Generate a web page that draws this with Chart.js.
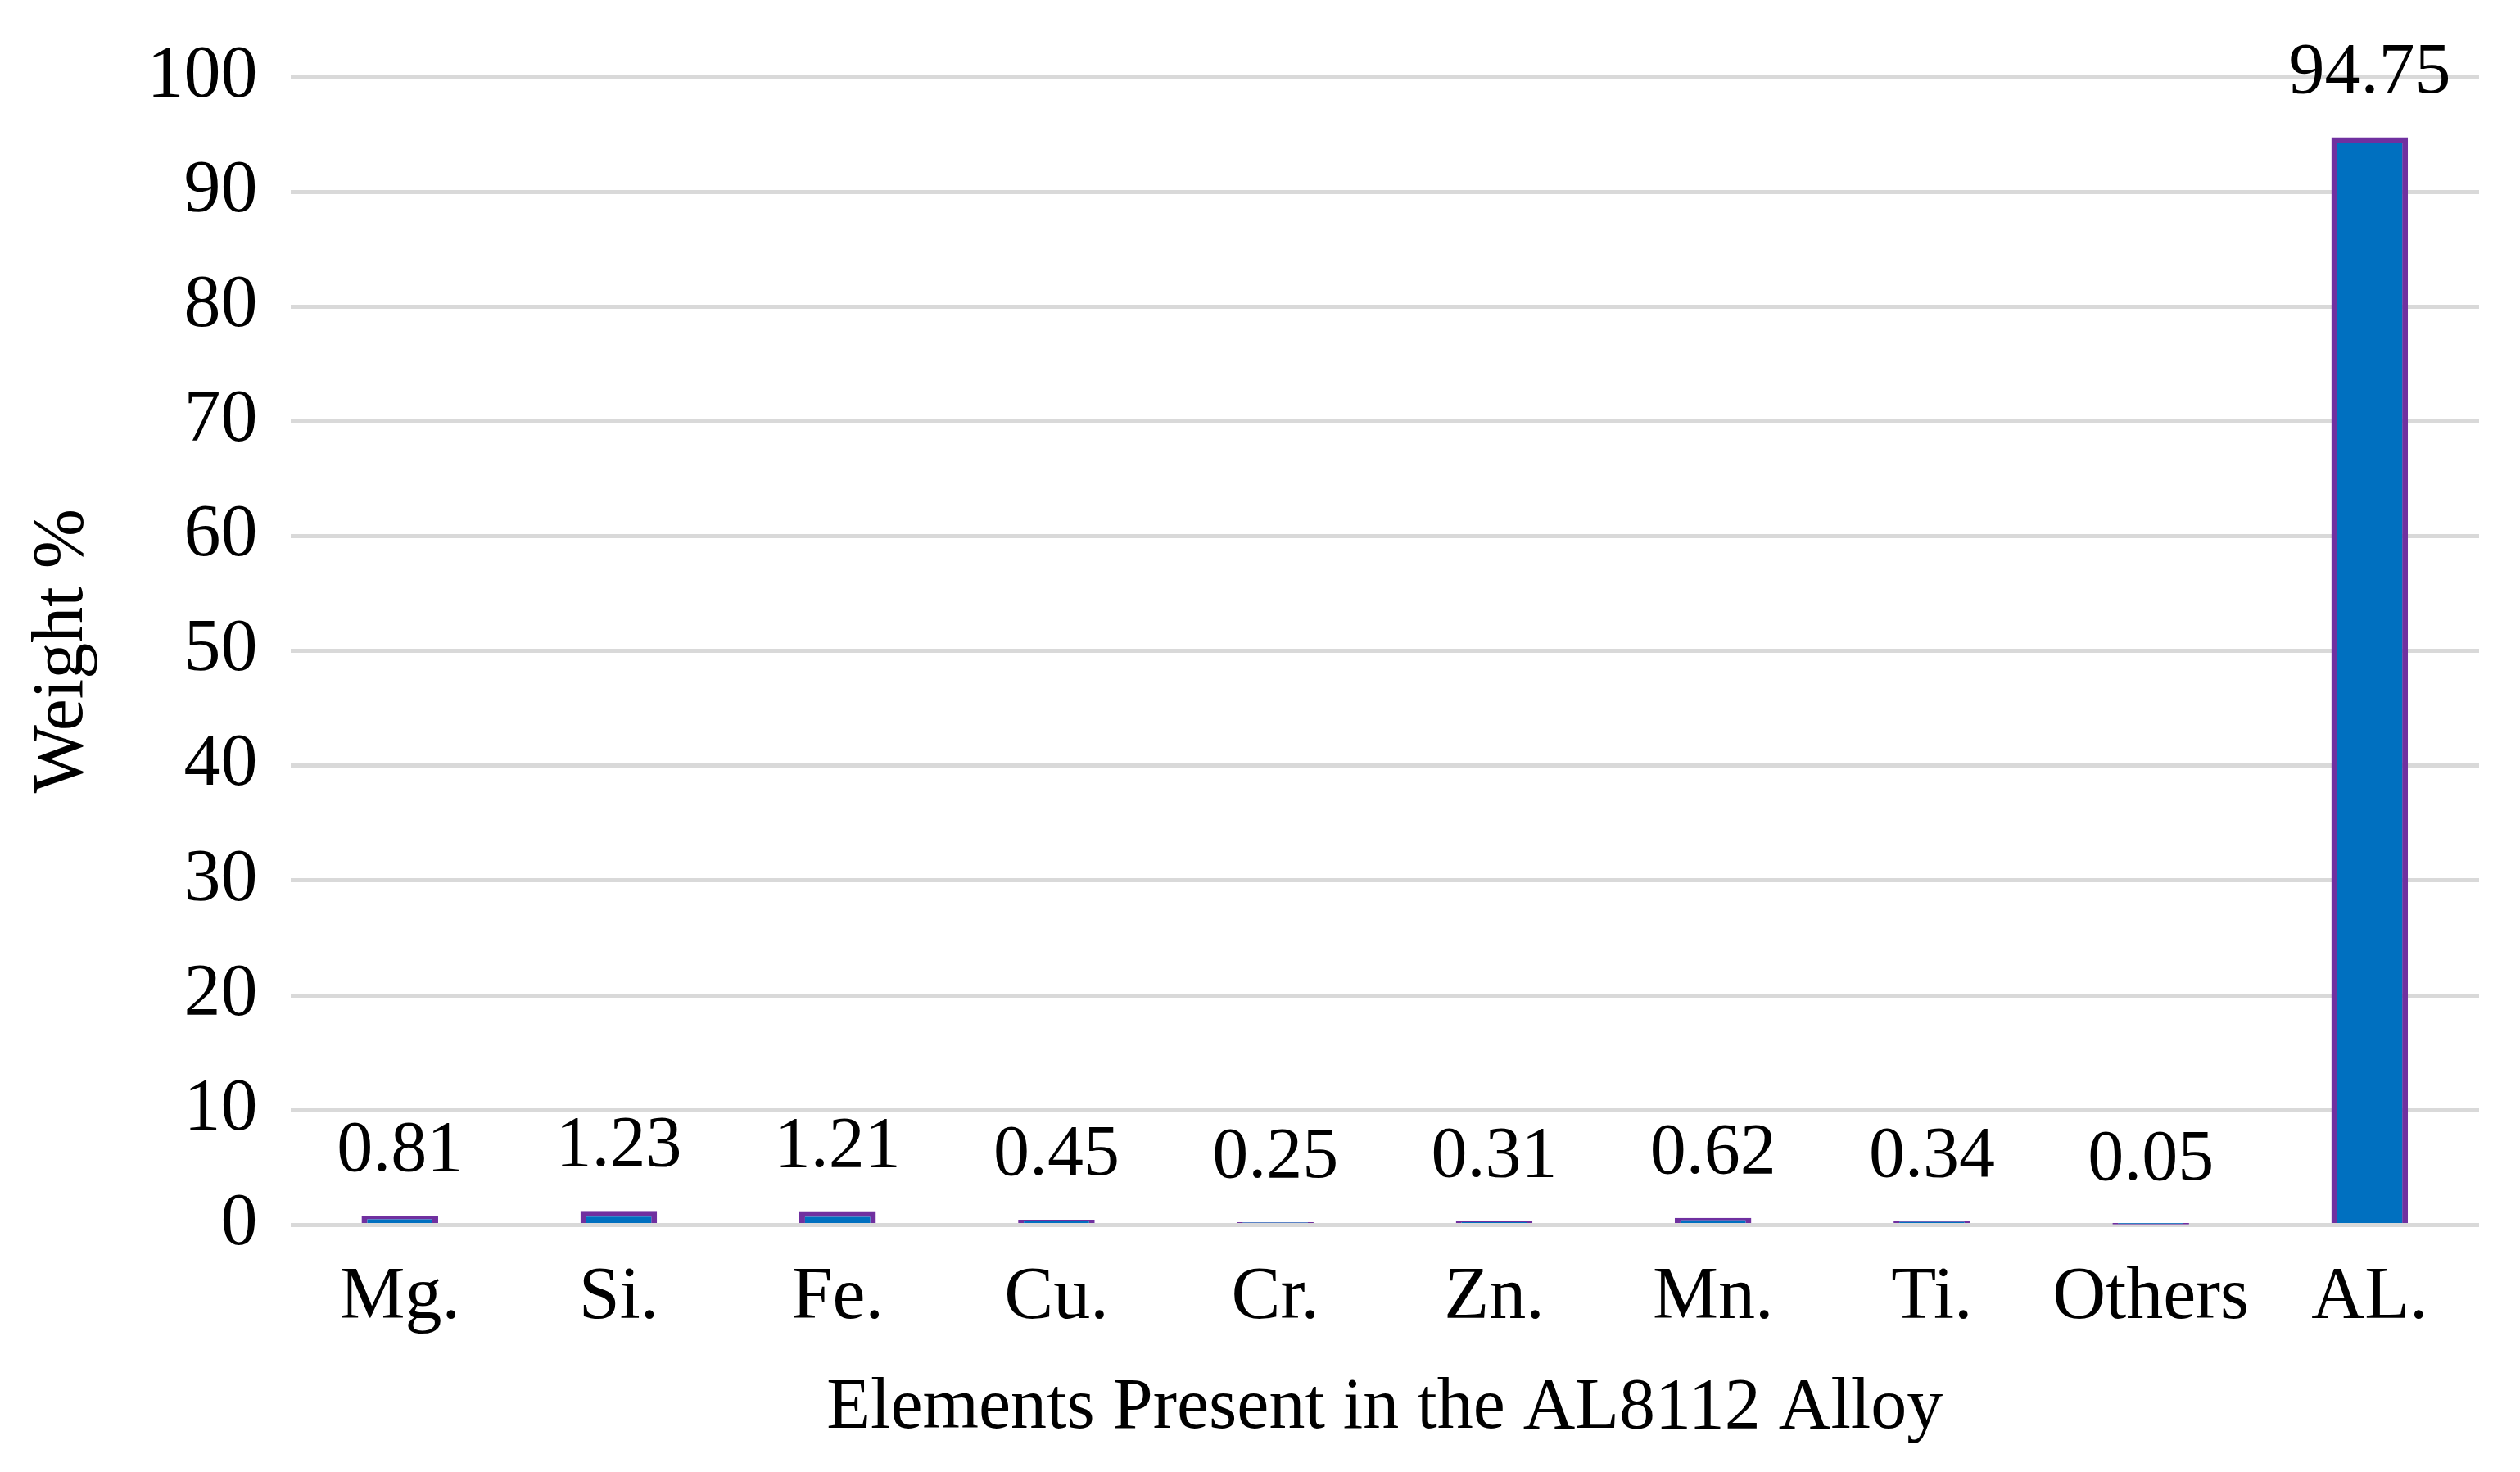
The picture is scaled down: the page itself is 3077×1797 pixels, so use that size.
<!DOCTYPE html>
<html><head><meta charset="utf-8">
<script src="https://cdn.jsdelivr.net/npm/chart.js@4/dist/chart.umd.min.js"></script>
<style>html,body{margin:0;padding:0;background:#fff}#w{width:3077px;height:1797px}</style>
</head><body><div id="w"><canvas id="c"></canvas></div>
<script>
const categories = ["Mg.","Si.","Fe.","Cu.","Cr.","Zn.","Mn.","Ti.","Others","AL."];
const weights = [0.81,1.23,1.21,0.45,0.25,0.31,0.62,0.34,0.05,94.75];
const labelsTxt = ["0.81","1.23","1.21","0.45","0.25","0.31","0.62","0.34","0.05","94.75"];
const F = "'Liberation Serif','Times New Roman',serif";
const dl = {id:'dl', afterDatasetsDraw(ch){
  const ctx=ch.ctx; const m=ch.getDatasetMeta(0);
  ctx.save(); ctx.font="88px "+F; ctx.fillStyle="#000"; ctx.textAlign="center"; ctx.textBaseline="bottom";
  m.data.forEach((b,i)=>{ ctx.fillText(labelsTxt[i], b.x, b.y-34); });
  ctx.restore();
}};
new Chart(document.getElementById('c'),{
  type:'bar',
  data:{labels:categories,datasets:[{data:weights,backgroundColor:'#0070C0',borderColor:'#7030A0',borderWidth:7,categoryPercentage:1,barPercentage:0.35}]},
  options:{responsive:true,maintainAspectRatio:false,animation:false,
    layout:{padding:{top:70,right:50,left:20,bottom:20}},
    plugins:{legend:{display:false},tooltip:{enabled:false}},
    scales:{
      y:{min:0,max:100,ticks:{stepSize:10,font:{family:F,size:90},color:'#000',padding:40},
         grid:{color:'#d9d9d9',lineWidth:5,drawTicks:false},border:{display:false},
         title:{display:true,text:'Weight %',font:{family:F,size:88},color:'#000',padding:{bottom:10}}},
      x:{ticks:{font:{family:F,size:90},color:'#000',padding:28},
         grid:{display:false},border:{display:false},
         title:{display:true,text:'Elements Present in the AL8112 Alloy',font:{family:F,size:88},color:'#000',padding:{top:0}}}
    }},
  plugins:[dl]
});
</script></body></html>
